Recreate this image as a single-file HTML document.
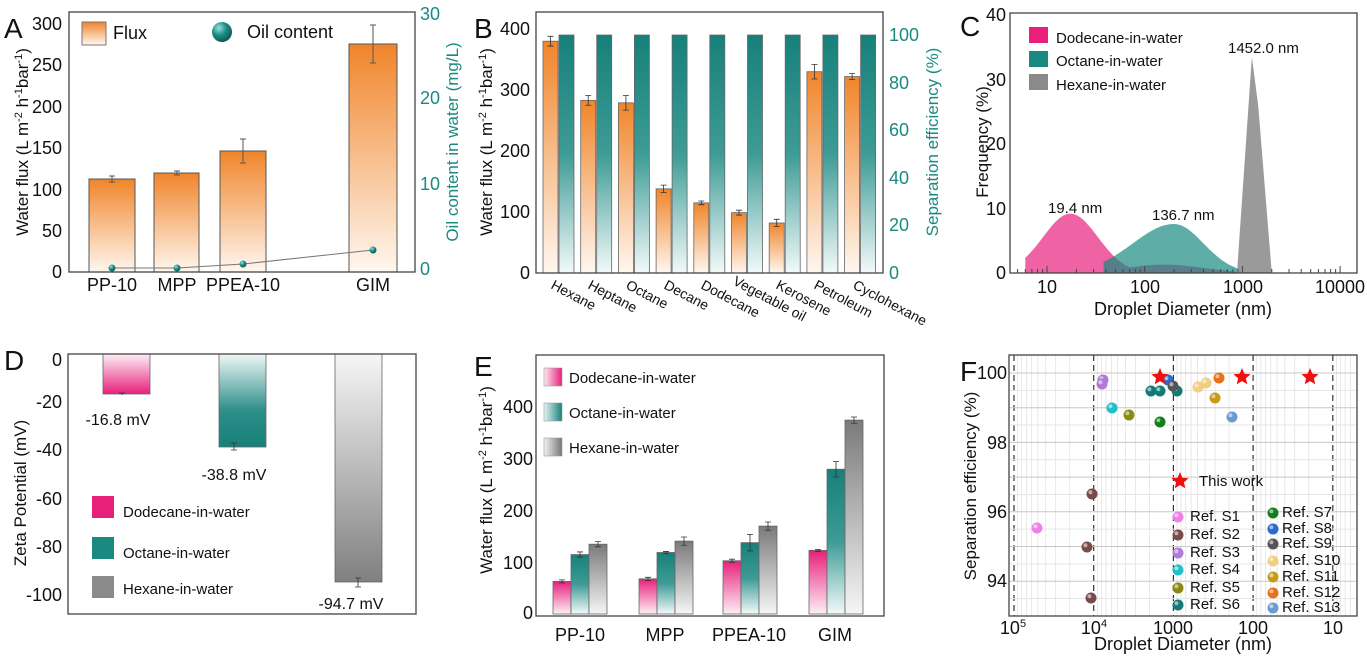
<!DOCTYPE html>
<html><head><meta charset="utf-8"><style>
html,body{margin:0;padding:0;background:#fff;}
svg{display:block;font-family:"Liberation Sans",sans-serif;}
</style></head><body>
<svg id="s" width="1367" height="659" viewBox="0 0 1367 659" xmlns="http://www.w3.org/2000/svg">
<defs>
<linearGradient id="gO" x1="0" y1="0" x2="0" y2="1"><stop offset="0" stop-color="#f0852a"/><stop offset="1" stop-color="#fff7f0"/></linearGradient>
<linearGradient id="gT" x1="0" y1="0" x2="0" y2="1"><stop offset="0" stop-color="#17807a"/><stop offset="0.5" stop-color="#3e9b95"/><stop offset="1" stop-color="#f2fafa"/></linearGradient>
<linearGradient id="gP" x1="0" y1="0" x2="0" y2="1"><stop offset="0" stop-color="#e8207c"/><stop offset="1" stop-color="#fdf0f6"/></linearGradient>
<linearGradient id="gG" x1="0" y1="0" x2="0" y2="1"><stop offset="0" stop-color="#7a7a7a"/><stop offset="1" stop-color="#f6f6f6"/></linearGradient>
<linearGradient id="dP" x1="0" y1="0" x2="0" y2="1"><stop offset="0" stop-color="#fdf0f6"/><stop offset="1" stop-color="#e8207c"/></linearGradient>
<linearGradient id="dT" x1="0" y1="0" x2="0" y2="1"><stop offset="0" stop-color="#eef8f7"/><stop offset="0.6" stop-color="#2f8f89"/><stop offset="1" stop-color="#17807a"/></linearGradient>
<linearGradient id="dG" x1="0" y1="0" x2="0" y2="1"><stop offset="0" stop-color="#f6f6f6"/><stop offset="1" stop-color="#808080"/></linearGradient>
<linearGradient id="hP" x1="0" y1="0" x2="1" y2="0"><stop offset="0" stop-color="#fde8f2"/><stop offset="1" stop-color="#e8207c"/></linearGradient>
<linearGradient id="hT" x1="0" y1="0" x2="1" y2="0"><stop offset="0" stop-color="#e6f4f3"/><stop offset="1" stop-color="#17807a"/></linearGradient>
<linearGradient id="hG" x1="0" y1="0" x2="1" y2="0"><stop offset="0" stop-color="#f2f2f2"/><stop offset="1" stop-color="#777"/></linearGradient>
<linearGradient id="hO" x1="0" y1="0" x2="0" y2="1"><stop offset="0" stop-color="#f0852a"/><stop offset="1" stop-color="#fff7f0"/></linearGradient>
<radialGradient id="ball" cx="0.35" cy="0.3" r="0.7"><stop offset="0" stop-color="#9fe0da"/><stop offset="0.5" stop-color="#1a9288"/><stop offset="1" stop-color="#0c5c56"/></radialGradient>
</defs>
<g id="dyn"></g>

<!-- ===== Panel A ===== -->
<g font-size="18" fill="#111">
<text x="4" y="38" font-size="28">A</text>
<g stroke="#555" stroke-width="1">
<rect x="89" y="179" width="46" height="93" fill="url(#gO)"/>
<rect x="154" y="173" width="45" height="99" fill="url(#gO)"/>
<rect x="220" y="151" width="46" height="121" fill="url(#gO)"/>
<rect x="349" y="44" width="48" height="228" fill="url(#gO)"/>
<path d="M112 176V182M109 176H115M109 182H115M177 171V175M174 171H180M174 175H180M243 139V163M240 139H246M240 163H246M373 25V63M370 25H376M370 63H376" fill="none"/>
<polyline points="112,268 177,268 243,264 373,250" fill="none" stroke="#777"/>
</g>
<g fill="url(#ball)"><circle cx="112" cy="268" r="3.5"/><circle cx="177" cy="268" r="3.5"/><circle cx="243" cy="264" r="3.5"/><circle cx="373" cy="250" r="3.5"/></g>
<rect x="69" y="12" width="346" height="260" fill="none" stroke="#444" stroke-width="1.3"/>
<rect x="82" y="22" width="24" height="23" fill="url(#hO)" stroke="#777"/>
<text x="113" y="39">Flux</text>
<circle cx="222" cy="32" r="10" fill="url(#ball)"/>
<text x="247" y="38">Oil content</text>
<g text-anchor="end"><text x="62" y="278">0</text><text x="62" y="237">50</text><text x="62" y="196">100</text><text x="62" y="154">150</text><text x="62" y="113">200</text><text x="62" y="71">250</text><text x="62" y="30">300</text></g>
<g fill="#1a8a80"><text x="420" y="275">0</text><text x="420" y="190">10</text><text x="420" y="104">20</text><text x="420" y="20">30</text></g>
<g text-anchor="middle"><text x="112" y="291">PP-10</text><text x="177" y="291">MPP</text><text x="243" y="291">PPEA-10</text><text x="373" y="291">GIM</text></g>
<text transform="translate(28,142) rotate(-90)" text-anchor="middle" font-size="17">Water flux  (L m<tspan font-size="11" dy="-6">-2</tspan><tspan dy="6"> h</tspan><tspan font-size="11" dy="-6">-1</tspan><tspan dy="6">bar</tspan><tspan font-size="11" dy="-6">-1</tspan><tspan dy="6">)</tspan></text>
<text transform="translate(458,142) rotate(-90)" text-anchor="middle" fill="#1a8a80" font-size="17">Oil content in water  (mg/L)</text>
</g>

<!-- ===== Panel B ===== -->
<g font-size="18" fill="#111">
<text x="474" y="38" font-size="28">B</text>
<g id="bbars" stroke="#666" stroke-width="0.8"></g>
<rect x="536" y="12" width="347" height="261" fill="none" stroke="#444" stroke-width="1.3"/>
<g text-anchor="end"><text x="530" y="279">0</text><text x="530" y="218">100</text><text x="530" y="157">200</text><text x="530" y="96">300</text><text x="530" y="35">400</text></g>
<g fill="#1a8a80"><text x="889" y="279">0</text><text x="889" y="231">20</text><text x="889" y="184">40</text><text x="889" y="136">60</text><text x="889" y="89">80</text><text x="889" y="41">100</text></g>
<g font-size="14">
<text transform="translate(550,288) rotate(28)">Hexane</text>
<text transform="translate(587,288) rotate(28)">Heptane</text>
<text transform="translate(625,288) rotate(28)">Octane</text>
<text transform="translate(663,288) rotate(28)">Decane</text>
<text transform="translate(700,288) rotate(28)">Dodecane</text>
<text transform="translate(732,284) rotate(28)">Vegetable oil</text>
<text transform="translate(775,288) rotate(28)">Kerosene</text>
<text transform="translate(813,288) rotate(28)">Petroleum</text>
<text transform="translate(852,288) rotate(28)">Cyclohexane</text>
</g>
<text transform="translate(492,142) rotate(-90)" text-anchor="middle" font-size="17">Water flux  (L m<tspan font-size="11" dy="-6">-2</tspan><tspan dy="6"> h</tspan><tspan font-size="11" dy="-6">-1</tspan><tspan dy="6">bar</tspan><tspan font-size="11" dy="-6">-1</tspan><tspan dy="6">)</tspan></text>
<text transform="translate(938,142) rotate(-90)" text-anchor="middle" fill="#1a8a80" font-size="17">Separation efficiency  (%)</text>
</g>

<!-- ===== Panel C ===== -->
<g font-size="18" fill="#111">
<text x="960" y="36" font-size="28">C</text>
<g id="ccurves"></g>
<rect x="1010" y="13" width="347" height="260" fill="none" stroke="#444" stroke-width="1.3"/>
<g text-anchor="end"><text x="1006" y="279">0</text><text x="1006" y="215">10</text><text x="1006" y="150">20</text><text x="1006" y="86">30</text><text x="1006" y="21">40</text></g>
<g text-anchor="middle"><text x="1047" y="293">10</text><text x="1145" y="293">100</text><text x="1243" y="293">1000</text><text x="1340" y="293">10000</text></g>
<text x="1183" y="315" text-anchor="middle">Droplet Diameter (nm)</text>
<text transform="translate(988,142) rotate(-90)" text-anchor="middle" font-size="17">Frequency  (%)</text>
<text x="1048" y="213" font-size="15">19.4 nm</text>
<text x="1152" y="220" font-size="15">136.7 nm</text>
<text x="1228" y="53" font-size="15">1452.0 nm</text>
<rect x="1029" y="27" width="19" height="16" fill="#e8207c"/><text x="1056" y="43" font-size="15">Dodecane-in-water</text>
<rect x="1029" y="51" width="19" height="16" fill="#1a8a80"/><text x="1056" y="66" font-size="15">Octane-in-water</text>
<rect x="1029" y="74" width="19" height="16" fill="#8a8a8a"/><text x="1056" y="90" font-size="15">Hexane-in-water</text>
</g>

<!-- ===== Panel D ===== -->
<g font-size="18" fill="#111">
<text x="4" y="370" font-size="28">D</text>
<g stroke="#666" stroke-width="0.8">
<rect x="103" y="354" width="47" height="40" fill="url(#dP)"/>
<rect x="219" y="354" width="47" height="93" fill="url(#dT)"/>
<rect x="335" y="354" width="47" height="228" fill="url(#dG)"/>
<path d="M122 393V395M119 393H125M234 443V450M231 443H237M231 450H237M358 578V587M355 578H361M355 587H361" fill="none" stroke="#333"/>
</g>
<rect x="68" y="354" width="348" height="260" fill="none" stroke="#444" stroke-width="1.3"/>
<g text-anchor="end"><text x="62" y="366">0</text><text x="62" y="408">-20</text><text x="62" y="456">-40</text><text x="62" y="505">-60</text><text x="62" y="553">-80</text><text x="62" y="601">-100</text></g>
<text x="118" y="425" text-anchor="middle" font-size="16">-16.8 mV</text>
<text x="234" y="480" text-anchor="middle" font-size="16">-38.8 mV</text>
<text x="351" y="609" text-anchor="middle" font-size="16">-94.7 mV</text>
<rect x="92" y="496" width="22" height="22" fill="#e8207c"/><text x="123" y="517" font-size="15">Dodecane-in-water</text>
<rect x="92" y="537" width="22" height="22" fill="#1a8a80"/><text x="123" y="558" font-size="15">Octane-in-water</text>
<rect x="92" y="576" width="22" height="22" fill="#8a8a8a"/><text x="123" y="594" font-size="15">Hexane-in-water</text>
<text transform="translate(26,493) rotate(-90)" text-anchor="middle" font-size="17">Zeta Potential  (mV)</text>
</g>

<!-- ===== Panel E ===== -->
<g font-size="18" fill="#111">
<text x="474" y="376" font-size="28">E</text>
<g id="ebars" stroke="#666" stroke-width="0.8"></g>
<rect x="536" y="355" width="348" height="261" fill="none" stroke="#444" stroke-width="1.3"/>
<g text-anchor="end"><text x="533" y="619">0</text><text x="533" y="569">100</text><text x="533" y="517">200</text><text x="533" y="465">300</text><text x="533" y="413">400</text></g>
<g text-anchor="middle"><text x="580" y="641">PP-10</text><text x="665" y="641">MPP</text><text x="749" y="641">PPEA-10</text><text x="835" y="641">GIM</text></g>
<rect x="544" y="368" width="18" height="18" fill="url(#hP)" stroke="#999" stroke-width="0.6"/><text x="569" y="383" font-size="15">Dodecane-in-water</text>
<rect x="544" y="403" width="18" height="18" fill="url(#hT)" stroke="#999" stroke-width="0.6"/><text x="569" y="418" font-size="15">Octane-in-water</text>
<rect x="544" y="438" width="18" height="18" fill="url(#hG)" stroke="#999" stroke-width="0.6"/><text x="569" y="453" font-size="15">Hexane-in-water</text>
<text transform="translate(492,480) rotate(-90)" text-anchor="middle" font-size="17">Water flux  (L m<tspan font-size="11" dy="-6">-2</tspan><tspan dy="6"> h</tspan><tspan font-size="11" dy="-6">-1</tspan><tspan dy="6">bar</tspan><tspan font-size="11" dy="-6">-1</tspan><tspan dy="6">)</tspan></text>
</g>

<!-- ===== Panel F ===== -->
<g font-size="18" fill="#111">
<g id="fgrid"></g>
<text x="960" y="381" font-size="28">F</text>
<rect x="1009" y="355" width="348" height="261" fill="none" stroke="#444" stroke-width="1.3"/>
<g text-anchor="end"><text x="1007" y="379">100</text><text x="1007" y="449">98</text><text x="1007" y="518">96</text><text x="1007" y="587">94</text></g>
<g text-anchor="middle"><text x="1013" y="634">10<tspan font-size="11" dy="-7">5</tspan></text><text x="1094" y="634">10<tspan font-size="11" dy="-7">4</tspan></text><text x="1173" y="634">1000</text><text x="1253" y="634">100</text><text x="1333" y="634">10</text></g>
<text x="1183" y="650" text-anchor="middle">Droplet Diameter (nm)</text>
<text transform="translate(976,486) rotate(-90)" text-anchor="middle" font-size="17">Separation efficiency  (%)</text>
<g id="fpts"></g>
<g font-size="15">
<text x="1199" y="486">This work</text>
<text x="1190" y="521">Ref. S1</text><text x="1190" y="539">Ref. S2</text><text x="1190" y="557">Ref. S3</text><text x="1190" y="574">Ref. S4</text><text x="1190" y="592">Ref. S5</text><text x="1190" y="609">Ref. S6</text>
<text x="1282" y="517">Ref. S7</text><text x="1282" y="533">Ref. S8</text><text x="1282" y="548">Ref. S9</text><text x="1282" y="565">Ref. S10</text><text x="1282" y="581">Ref. S11</text><text x="1282" y="597">Ref. S12</text><text x="1282" y="612">Ref. S13</text>
</g>
</g>
</svg>
<script>
var NS="http://www.w3.org/2000/svg";
function el(p,t,a){var e=document.createElementNS(NS,t);for(var k in a)e.setAttribute(k,a[k]);p.appendChild(e);return e;}
var bb=document.getElementById("bbars");
var bv=[380,283,279,138,115,99,82,330,322],be=[8,8,12,6,3,4,6,12,5];
for(var i=0;i<9;i++){var x=543+i*37.7,y=273-bv[i]*0.61;
el(bb,"rect",{x:x,y:y,width:15,height:273-y,fill:"url(#gO)"});
el(bb,"rect",{x:x+16,y:35,width:15,height:238,fill:"url(#gT)"});
var e1=y-be[i]*0.61,e2=y+be[i]*0.61;
el(bb,"path",{d:"M"+(x+7.5)+" "+e1+"V"+e2+"M"+(x+4.5)+" "+e1+"H"+(x+10.5)+"M"+(x+4.5)+" "+e2+"H"+(x+10.5),fill:"none",stroke:"#333"});}
var eb=document.getElementById("ebars");
var gx=[553,639,723,809],ev=[[63,115,135],[68,119,141],[103,138,170],[123,280,375]],ee=[[3,5,5],[3,2,8],[3,16,8],[2,15,6]],ef=["url(#gP)","url(#gT)","url(#gG)"];
for(var g=0;g<4;g++)for(var j=0;j<3;j++){var x=gx[g]+j*18,y=614-ev[g][j]*0.517;
el(eb,"rect",{x:x,y:y,width:18,height:614-y,fill:ef[j]});
var e1=y-ee[g][j]*0.517,e2=y+ee[g][j]*0.517;
el(eb,"path",{d:"M"+(x+9)+" "+e1+"V"+e2+"M"+(x+6)+" "+e1+"H"+(x+12)+"M"+(x+6)+" "+e2+"H"+(x+12),fill:"none",stroke:"#333"});}
var cc=document.getElementById("ccurves");
function X(d){return 1047+(Math.log10(d)-1)*97.7;}
function Y(v){return 273-v*6.45;}
function curve(f,a,b,fill,op){var d="M"+X(a)+" 273";for(var k=0;k<=120;k++){var l=Math.log10(a)+(Math.log10(b)-Math.log10(a))*k/120,v=f(l);d+="L"+X(Math.pow(10,l)).toFixed(1)+" "+Y(v).toFixed(1);}d+="L"+X(b)+" 273Z";el(cc,"path",{d:d,fill:fill,"fill-opacity":op});}
curve(function(l){var v=9.2*Math.exp(-Math.pow((l-1.24)/0.28,2)/2);if(l>1.7)v=Math.max(v,1.3*Math.exp(-Math.pow((l-2.2)/0.4,2)/2)*(l<2.93?1:0));return v;},6,900,"#e8207c",0.7);
curve(function(l){var s=l<2.3?0.42:0.3;return 7.6*Math.exp(-Math.pow((l-2.3)/s,2)/2);},38,880,"#1a8a80",0.7);
el(cc,"path",{d:"M"+X(880)+" 273L"+X(1250)+" "+Y(33.5)+"L"+X(1450)+" "+Y(26)+"L"+X(2000)+" 273Z",fill:"#9a9a9a"});
for(var dd=0;dd<=4;dd++)for(var m=1;m<10;m++){var v=Math.pow(10,dd)*m;var xx=X(v);if(xx<1011||xx>1356)continue;el(cc,"line",{x1:xx,x2:xx,y1:273,y2:m==1?266:269,stroke:"#444"});}
var fg=document.getElementById("fgrid");
function FX(d){return 1014+(5-Math.log10(d))*79.7;}
function FY(v){return 373+(100-v)*34.7;}
for(var dd=0;dd<=5;dd++)for(var m=1;m<10;m++){var v=Math.pow(10,dd)*m,xx=FX(v);if(xx<1010||xx>1356)continue;
el(fg,"line",{x1:xx,x2:xx,y1:355,y2:616,stroke:m==1?"#333":"#e2e2e2","stroke-width":m==1?1.2:0.8,"stroke-dasharray":m==1?"6,4":""});}
for(var v=93;v<=100.5;v+=0.5){var yy=FY(v);if(yy<356||yy>615)continue;el(fg,"line",{x1:1009,x2:1357,y1:yy,y2:yy,stroke:Math.abs(v-Math.round(v))<0.01?"#c8c8c8":"#e6e6e6"});}
var fp=document.getElementById("fpts");
var pts=[[1037,528,"#f080e8"],[1092,494,"#7a4a4a"],[1087,547,"#7a4a4a"],[1091,598,"#7a4a4a"],[1103,380,"#b07ad8"],[1102,384,"#b07ad8"],[1112,408,"#20c0c8"],[1129,415,"#8a8a10"],[1151,391,"#147a78"],[1160,391,"#147a78"],[1177,391,"#147a78"],[1160,422,"#12801a"],[1168,380,"#2a6ad0"],[1173,386,"#555"],[1198,387,"#f0d080"],[1206,383,"#f0d080"],[1215,398,"#c89a18"],[1219,378,"#e87018"],[1232,417,"#6a9ad0"],
[1178,517,"#f080e8"],[1178,535,"#7a4a4a"],[1178,553,"#b07ad8"],[1178,570,"#20c0c8"],[1178,588,"#8a8a10"],[1178,605,"#147a78"],
[1273,513,"#12801a"],[1273,529,"#2a6ad0"],[1273,544,"#555"],[1273,561,"#f0d080"],[1273,577,"#c89a18"],[1273,593,"#e87018"],[1273,608,"#6a9ad0"]];
pts.forEach(function(p){el(fp,"circle",{cx:p[0],cy:p[1],r:5.5,fill:p[2]});el(fp,"circle",{cx:p[0]-1.6,cy:p[1]-1.8,r:2,fill:"#fff","fill-opacity":0.55});});
function star(cx,cy,r){var d="";for(var k=0;k<10;k++){var a=-Math.PI/2+k*Math.PI/5,rr=k%2?r*0.45:r;d+=(k?"L":"M")+(cx+rr*Math.cos(a)).toFixed(1)+" "+(cy+rr*Math.sin(a)).toFixed(1);}el(fp,"path",{d:d+"Z",fill:"#f01010"});}
star(1160,377,9);star(1242,377,9);star(1310,377,9);star(1180,481,9);
</script>
</body></html>
